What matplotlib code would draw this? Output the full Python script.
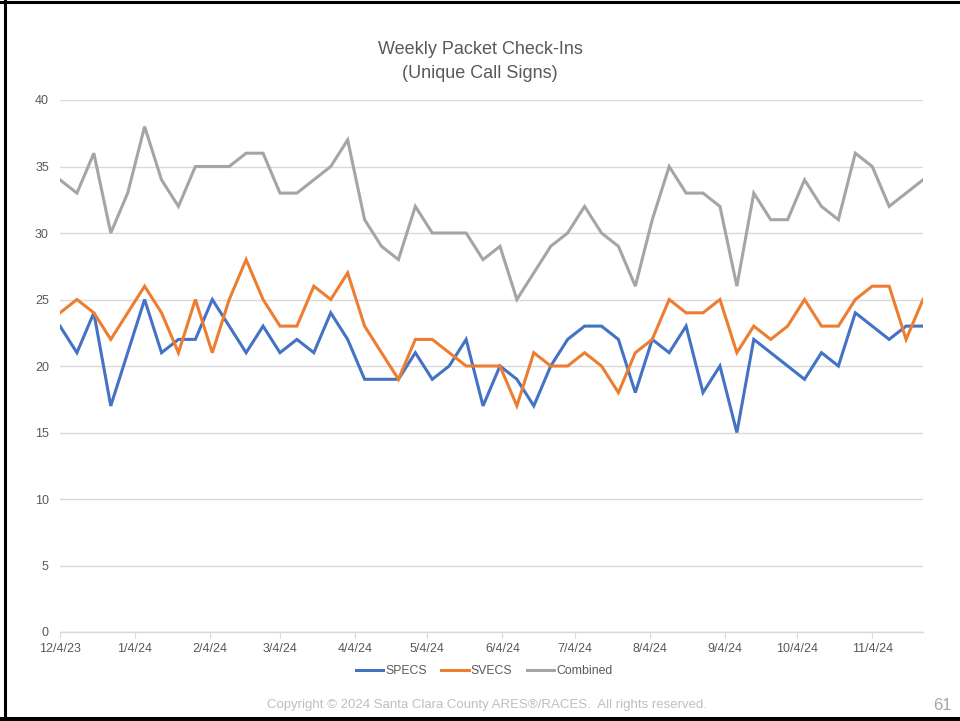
import matplotlib
matplotlib.use("Agg")
import matplotlib.pyplot as plt
from matplotlib.lines import Line2D
import pandas as pd

plt.rcParams['font.family'] = ['Liberation Sans', 'DejaVu Sans']

start_date = "2023-12-04"
n_weeks = 52
dates = pd.date_range(start_date, periods=n_weeks, freq="7D")

specs = [23, 21, 24, 17, 21, 25, 21, 22, 22, 25, 23, 21, 23, 21, 22, 21, 24, 22,
         19, 19, 19, 21, 19, 20, 22, 17, 20, 19, 17, 20, 22, 23, 23, 22, 18, 22,
         21, 23, 18, 20, 15, 22, 21, 20, 19, 21, 20, 24, 23, 22, 23, 23]
svecs = [24, 25, 24, 22, 24, 26, 24, 21, 25, 21, 25, 28, 25, 23, 23, 26, 25, 27,
         23, 21, 19, 22, 22, 21, 20, 20, 20, 17, 21, 20, 20, 21, 20, 18, 21, 22,
         25, 24, 24, 25, 21, 23, 22, 23, 25, 23, 23, 25, 26, 26, 22, 25]
combined = [34, 33, 36, 30, 33, 38, 34, 32, 35, 35, 35, 36, 36, 33, 33, 34, 35, 37,
            31, 29, 28, 32, 30, 30, 30, 28, 29, 25, 27, 29, 30, 32, 30, 29, 26, 31,
            35, 33, 33, 32, 26, 33, 31, 31, 34, 32, 31, 36, 35, 32, 33, 34]

tick_dates = ["2023-12-04", "2024-01-04", "2024-02-04", "2024-03-04", "2024-04-04",
              "2024-05-04", "2024-06-04", "2024-07-04", "2024-08-04", "2024-09-04",
              "2024-10-04", "2024-11-04"]
tick_labels = ["12/4/23", "1/4/24", "2/4/24", "3/4/24", "4/4/24", "5/4/24",
               "6/4/24", "7/4/24", "8/4/24", "9/4/24", "10/4/24", "11/4/24"]

series_names = ["SPECS", "SVECS", "Combined"]
colors = ["#4472C4", "#ED7D31", "#A5A5A5"]

W, H = 960, 721
fig = plt.figure(figsize=(W / 100, H / 100), dpi=100)
ax = fig.add_axes([60 / W, 1 - 632 / H, 863 / W, 532 / H])

for vals, name, c in zip([specs, svecs, combined], series_names, colors):
    ax.plot(dates, vals, color=c, lw=2.2, label=name, solid_joinstyle="miter")

ax.set_ylim(0, 40)
ax.set_yticks(range(0, 41, 5))
ax.set_xlim(dates[0], dates[-1])
ax.set_xticks(pd.to_datetime(tick_dates))
ax.set_xticklabels(tick_labels)

ax.grid(axis="y", color="#D9D9D9", lw=1)
ax.set_axisbelow(True)
for s in ["top", "right", "left"]:
    ax.spines[s].set_visible(False)
ax.spines["bottom"].set_color("#D9D9D9")
ax.spines["bottom"].set_linewidth(1)
ax.tick_params(axis="y", length=0, pad=8, labelsize=9, labelcolor="#595959")
ax.tick_params(axis="x", length=4, color="#D9D9D9", pad=4, labelsize=9, labelcolor="#595959")

fig.text(480 / W, 1 - 50 / H, "Weekly Packet Check-Ins", ha="center", va="center",
         fontsize=13, color="#595959")
fig.text(480 / W, 1 - 73 / H, "(Unique Call Signs)", ha="center", va="center",
         fontsize=13, color="#595959")

leg = fig.legend(loc="center", bbox_to_anchor=(484 / W, 1 - 671 / H), ncol=3,
                 frameon=False, fontsize=8.8, handlelength=2.25, handletextpad=0.15,
                 columnspacing=1.2)
for t in leg.get_texts():
    t.set_color("#595959")

fig.text(487 / W, 1 - 705 / H,
         "Copyright \u00a9 2024 Santa Clara County ARES\u00ae/RACES.  All rights reserved.",
         ha="center", va="center", fontsize=9.5, color="#BFBFBF")
fig.text(942 / W, 1 - 705 / H, "61", ha="center", va="center", fontsize=12, color="#A6A6A6")

# slide frame
fig.add_artist(Line2D([4.5 / W, 4.5 / W], [0, 1], color="black", lw=2.2,
                      transform=fig.transFigure))
fig.add_artist(Line2D([0, 1], [1 - 1.5 / H, 1 - 1.5 / H], color="black", lw=2.2,
                      transform=fig.transFigure))
fig.add_artist(Line2D([0, 1], [2 / H, 2 / H], color="black", lw=2.9,
                      transform=fig.transFigure))

fig.savefig("out.png", dpi=100)
